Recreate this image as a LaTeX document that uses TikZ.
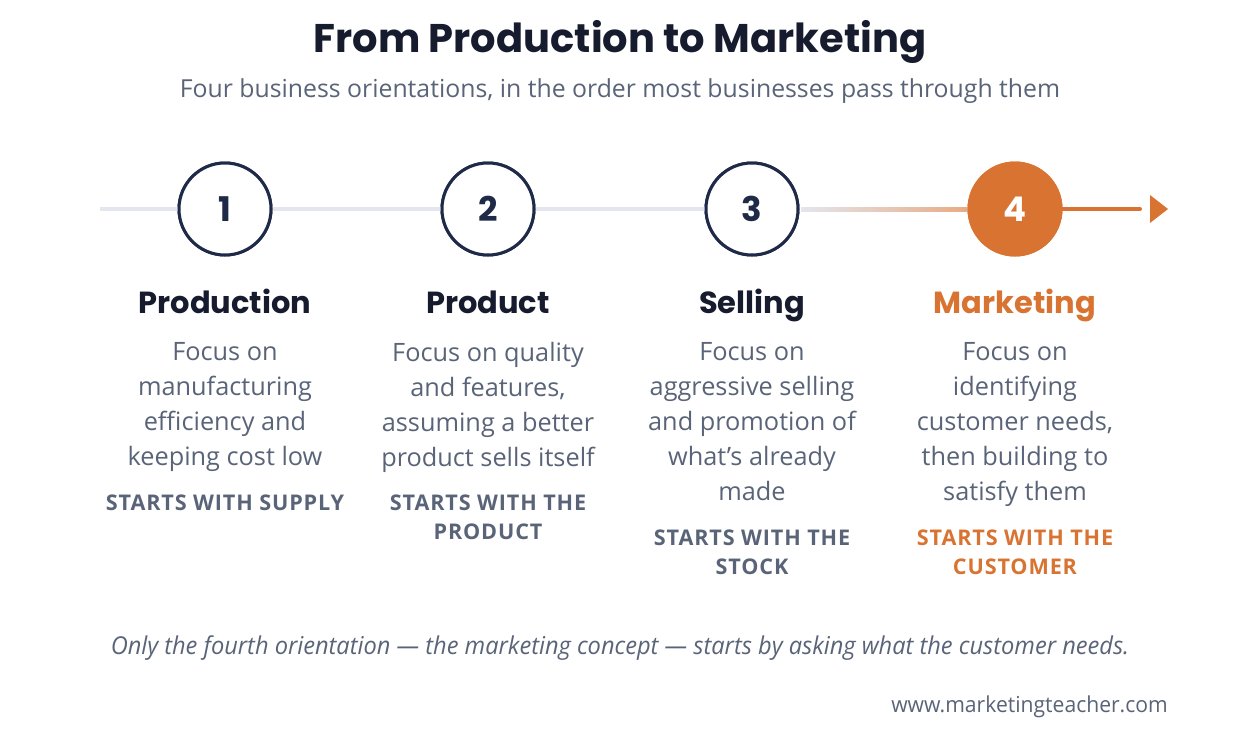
\documentclass[tikz,border=0pt]{standalone}
\usepackage{fontspec}
\setmainfont{Open Sans}
\newfontfamily\headfont{Poppins}
\newfontfamily\condfont[FakeStretch=0.96]{Open Sans}
\usetikzlibrary{calc}
\definecolor{navy}{HTML}{1E2A47}
\definecolor{ink}{HTML}{161B2E}
\definecolor{slate}{HTML}{5A6478}
\definecolor{rail}{HTML}{E3E6EE}
\definecolor{accent}{HTML}{D97331}
\tikzset{
  stepcircle/.style={circle, draw=navy, line width=3pt, minimum size=92pt, inner sep=0pt, fill=white,
     font=\headfont\bfseries\fontsize{34}{34}\selectfont, text=navy},
  stephead/.style={font=\headfont\bfseries\fontsize{30.5}{30.5}\selectfont, text=ink, inner sep=0pt, anchor=base},
  stepbody/.style={font=\fontsize{25.3}{35}\selectfont, text=slate, align=center, inner sep=0pt, anchor=north},
  steptag/.style={font=\bfseries\fontsize{21.6}{29}\selectfont\addfontfeature{LetterSpace=4}, text=slate, align=center, inner sep=0pt, anchor=north},
  railline/.style={rail, line width=4pt},
}
\begin{document}
\begin{tikzpicture}[x=1pt,y=-1pt]
\useasboundingbox (0,0) rectangle (1240,737);
\fill[white] (0,0) rectangle (1240,737);
% title
\node[font=\headfont\bfseries\fontsize{40}{40}\selectfont, text=ink, anchor=base, inner sep=0] (title) at (620,52) {From Production to Marketing};
\node[font=\fontsize{24.8}{24.8}\selectfont, text=slate, anchor=base, inner sep=0] (sub) at (620,97) {Four business orientations, in the order most businesses pass through them};
% circles
\coordinate (start) at (100,209);
\coordinate (tipbase) at (1140,209);
\node[stepcircle] (c1) at (225,209) {1};
\node[stepcircle] (c2) at (488,209) {2};
\node[stepcircle] (c3) at (752,209) {3};
\node[stepcircle, fill=accent, draw=accent, text=white] (c4) at (1015,209) {4};
% rail
\draw[railline] (start) -- (c1.west);
\draw[railline] (c1.east) -- (c2.west);
\draw[railline] (c2.east) -- (c3.west);
\shade[left color=rail, right color=accent!60!white] ($(c3.east)+(1.5,-2)$) rectangle ($(c4.west)+(0,2)$);
\draw[accent, line width=4pt, line cap=round] (c4.east) -- (tipbase);
\coordinate (tip) at (1168,209);
\fill[accent] (1150,195) -- (tip) -- (1150,223) -- cycle;
% redraw circles on top
\node[stepcircle] at (c1) {1};
\node[stepcircle] at (c2) {2};
\node[stepcircle] at (c3) {3};
\node[stepcircle, fill=accent, draw=accent, text=white] at (c4) {4};
% headings
\node[stephead] (h1) at (225,313) {Production};
\node[stephead] (h2) at (488,313) {Product};
\node[stephead] (h3) at (752,313) {Selling};
\node[stephead, text=accent] (h4) at (1015,313) {Marketing};
% bodies
\node[stepbody] (b1) at (225,342) {Focus on\\manufacturing\\efficiency and\\keeping cost low};
\node[stepbody] (b2) at (488,342) {Focus on quality\\and features,\\assuming a better\\product sells itself};
\node[stepbody] (b3) at (752,342) {Focus on\\aggressive selling\\and promotion of\\what's already\\made};
\node[stepbody] (b4) at (1015,342) {Focus on\\identifying\\customer needs,\\then building to\\satisfy them};
% tags
\node[steptag] (t1) at (225,495) {STARTS WITH SUPPLY};
\node[steptag] (t2) at (488,495) {STARTS WITH THE\\PRODUCT};
\node[steptag] (t3) at (752,530) {STARTS WITH THE\\STOCK};
\node[steptag, text=accent] (t4) at (1015,530) {STARTS WITH THE\\CUSTOMER};
% footer
\node[font=\condfont\itshape\fontsize{24.6}{24.6}\selectfont, text=slate, anchor=base, inner sep=0] (foot) at (620,654) {Only the fourth orientation — the marketing concept — starts by asking what the customer needs.};
\node[font=\condfont\fontsize{22}{22}\selectfont, text=slate, anchor=base east, inner sep=0] (url) at (1168,712) {www.marketingteacher.com};
\end{tikzpicture}
\end{document}
